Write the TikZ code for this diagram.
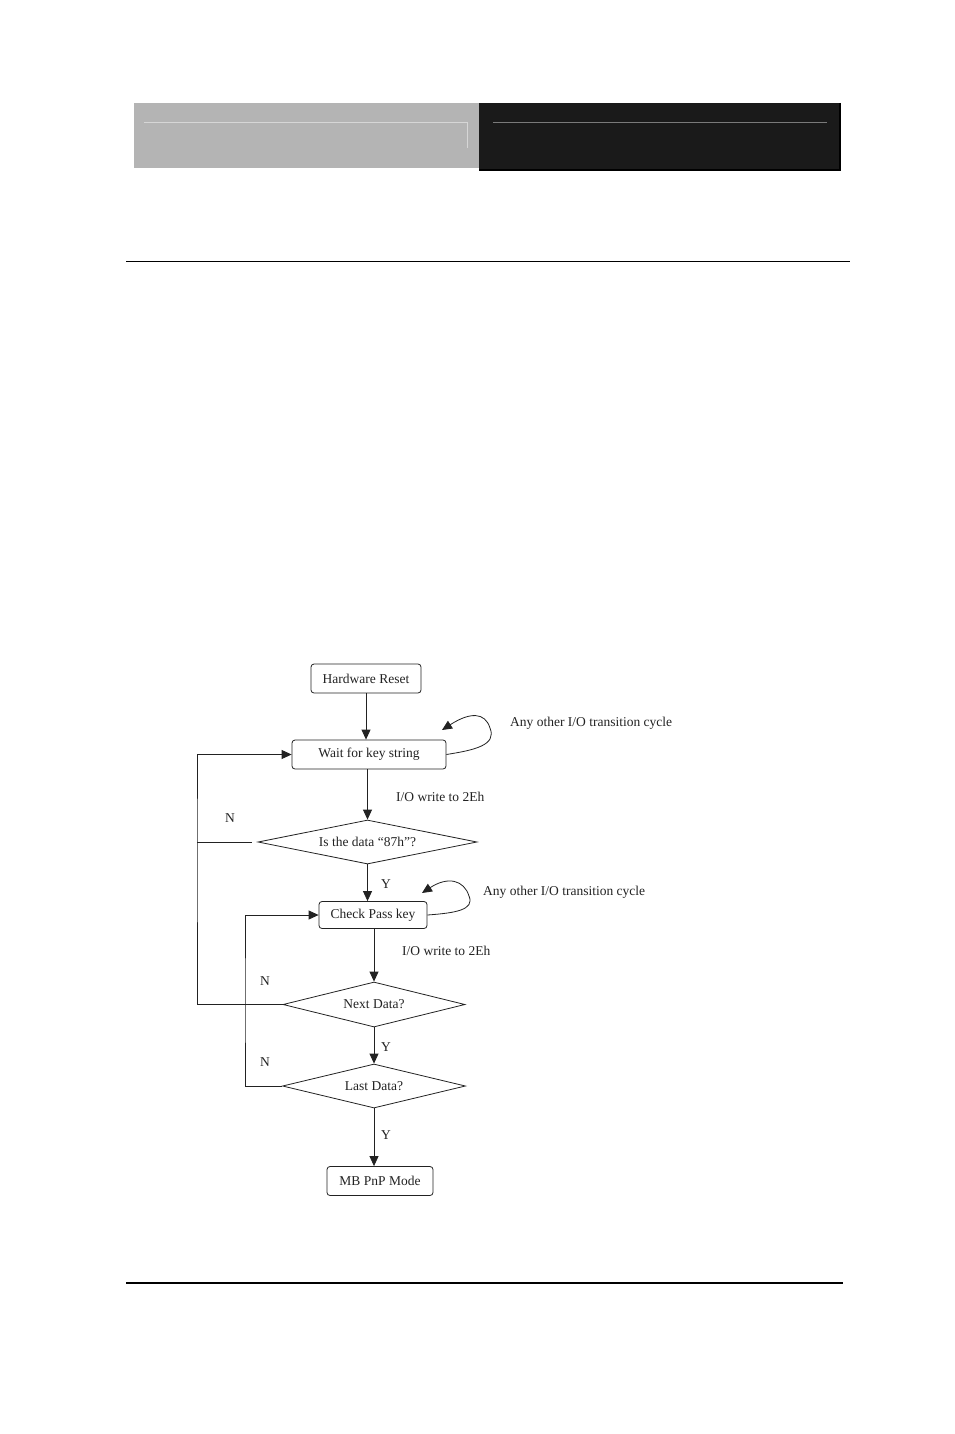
\documentclass[tikz,border=0pt]{standalone}
\usepackage{fontspec}
\setmainfont{Liberation Serif}
\usetikzlibrary{arrows.meta,shapes.geometric}
\definecolor{hdrgray}{HTML}{B4B4B4}
\definecolor{hdrdark}{HTML}{1A1A1A}
\definecolor{hdrline}{HTML}{D6D6D6}
\definecolor{hdrline2}{HTML}{7A7A7A}
\definecolor{ink}{HTML}{222222}
\tikzset{
  fc/.style={font=\fontsize{13.5}{15}\selectfont, text=ink},
  procbox/.style={fc, draw=ink, line width=0.8pt, rounded corners=3pt, inner sep=0pt},
  decbox/.style={fc, draw=ink, line width=0.8pt, diamond, inner sep=0pt},
  conn/.style={draw=ink, line width=0.8pt},
  arr/.style={conn, -{Triangle[length=10pt,width=9pt]}},
  lbl/.style={fc, inner sep=0pt},
}
\begin{document}
\begin{tikzpicture}[x=1pt,y=-1pt]
\useasboundingbox (0,0) rectangle (954,1434);
% header
\fill[hdrgray] (134,103) rectangle (479,168);
\draw[hdrline, line width=1pt] (144,123) -- (467,123) -- (467,148);
\fill[hdrdark] (479,103) rectangle (840,170);
\draw[black, line width=1.5pt] (840,103) -- (840,170) -- (479,170);
\draw[hdrline2, line width=1pt] (493,123) -- (827,123);
% rules
\draw[black, line width=1pt] (126,261) -- (850,261);
\draw[black, line width=2pt] (126,1283) -- (843,1283);
% nodes
\node[procbox, minimum width=110pt, minimum height=29pt] (hr) at (366,678.5) {Hardware Reset};
\node[procbox, minimum width=154pt, minimum height=29pt] (wait) at (369,754.5) {Wait for key string};
\node[decbox, aspect=4.98, minimum width=219pt, minimum height=44pt] (d1) at (367.5,842) {Is the data “87h”?};
\node[procbox, minimum width=108pt, minimum height=27pt] (check) at (373,915) {Check Pass key};
\node[decbox, aspect=4.04, minimum width=182pt, minimum height=45pt] (d2) at (374,1004.5) {Next Data?};
\node[decbox, aspect=4.16, minimum width=183pt, minimum height=44pt] (d3) at (374,1086) {Last Data?};
\node[procbox, minimum width=106pt, minimum height=29pt] (mb) at (380,1181) {MB PnP Mode};
\coordinate (lx) at (197,842);
\coordinate (lx2) at (245,1000);
% connectors
\draw[arr] (hr.south) -- (hr.south |- wait.north);
\draw[arr] (d1.north |- wait.south) -- (d1.north);
\draw[arr] (d1.south) -- (d1.south |- check.north);
\draw[arr] (check.south -| d2.north) -- (d2.north);
\draw[arr] (d2.south) -- (d3.north);
\draw[arr] (d3.south) -- (d3.south |- mb.north);
\draw[arr] (wait.east) .. controls (475,750) and (497,745) .. (490,728) .. controls (485,712) and (470,712) .. (442,730);
\draw[arr] (check.east) .. controls (455,913) and (475,910) .. (469,896) .. controls (464,880) and (448,876) .. (422,893);
\draw[conn] ([xshift=-6pt]d1.west) -- (lx);
\draw[arr] (d2.west) -| (lx) |- (wait.west);
\draw[arr] (d3.west) -| (lx2) |- (check.west);
% labels
\node[lbl, anchor=west] (t1) at (510,723) {Any other I/O transition cycle};
\node[lbl, anchor=west] (t2) at (396,797) {I/O write to 2Eh};
\node[lbl] (n1) at (230,818) {N};
\node[lbl] (y1) at (386,884) {Y};
\node[lbl, anchor=west] (t3) at (483,892) {Any other I/O transition cycle};
\node[lbl, anchor=west] (t4) at (402,951) {I/O write to 2Eh};
\node[lbl] (n2) at (265,981) {N};
\node[lbl] (y2) at (386,1047) {Y};
\node[lbl] (n3) at (265,1062) {N};
\node[lbl] (y3) at (386,1135) {Y};
\end{tikzpicture}
\end{document}
